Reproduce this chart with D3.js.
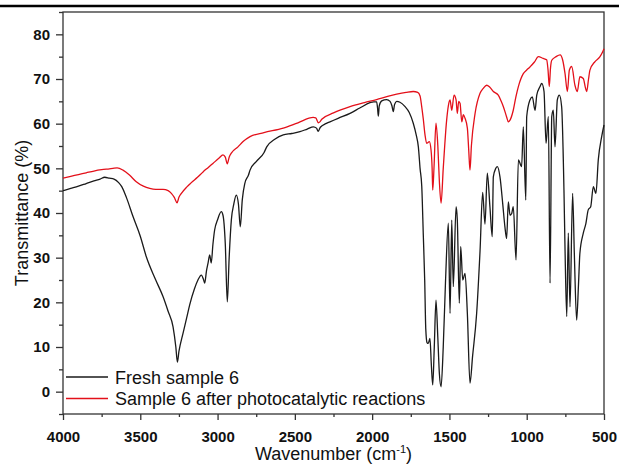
<!DOCTYPE html>
<html>
<head>
<meta charset="utf-8">
<script src="https://cdn.jsdelivr.net/npm/d3@7"></script>
<style>
  html, body { margin: 0; padding: 0; background: #fff; }
  svg { display: block; }
  text { font-family: "Liberation Sans", Arial, sans-serif; fill: #111; }
</style>
</head>
<body>
<svg id="chart" width="619" height="466"></svg>
<script>
// FT-IR spectra: wavenumber (cm^-1) and transmittance (%)
const freshWavenumber = [4000,3950,3900,3850,3800,3760,3730,3700,3670,3640,3620,3590,3547,3500,3461,3400,3353,3320,3288,3270,3260,3250,3224,3200,3180,3150,3127,3105,3090,3083,3072,3062,3051,3041,3030,3019,3000,2976,2965,2950,2937,2925,2911,2895,2879,2865,2853,2840,2824,2800,2790,2750,2700,2682,2630,2575,2520,2467,2420,2380,2360,2349,2335,2300,2273,2220,2143,2080,2014,1990,1971,1965,1960,1954,1938,1906,1884,1872,1863,1855,1841,1820,1787,1760,1734,1715,1701,1690,1679,1669,1660,1653,1645,1637,1626,1617,1608,1598,1587,1575,1565,1554,1540,1525,1507,1496,1485,1475,1457,1449,1436,1427,1414,1399,1384,1367,1350,1324,1302,1285,1270,1255,1238,1223,1216,1200,1190,1173,1155,1141,1130,1119,1108,1097,1087,1069,1054,1033,1022,1006,1000,979,964,946,935,914,903,888,875,860,849,838,828,817,802,789,774,759,752,741,731,720,703,692,677,665,656,634,617,602,586,569,552,537,515,500];
const freshT = [45.0,45.5,46.0,46.6,47.2,47.6,48.0,47.8,47.6,46.8,45.9,43.5,39.2,34.8,30.2,25.0,21.3,18.0,14.5,10.0,6.6,9.0,13.0,16.5,19.5,23.0,25.0,26.1,25.0,24.3,27.0,28.7,30.6,28.8,33.0,36.2,38.5,40.3,39.5,33.0,20.1,30.0,38.4,42.0,44.0,42.0,36.9,43.0,46.6,48.5,49.6,51.5,53.5,54.8,56.5,57.5,57.8,58.2,58.8,59.3,59.0,58.3,59.2,60.0,60.4,61.2,62.3,63.5,64.7,64.9,64.9,63.5,61.7,64.0,65.1,65.4,65.0,64.0,62.7,64.3,65.0,64.8,63.8,62.5,60.1,57.5,54.8,50.0,46.0,35.0,25.0,14.0,11.0,10.8,11.9,6.0,1.5,10.0,20.5,12.0,4.0,1.1,10.0,25.0,37.7,17.5,38.4,23.5,41.4,38.4,19.8,32.5,25.0,26.5,17.5,1.9,8.0,17.5,31.5,44.6,37.5,48.9,41.4,34.7,48.1,50.0,50.4,48.1,42.0,36.9,34.3,42.5,39.5,39.9,41.4,29.5,51.9,50.4,59.3,42.9,61.6,65.3,66.0,63.0,66.4,68.3,69.0,67.2,55.6,61.6,24.3,61.6,63.0,54.8,65.3,66.4,63.8,45.1,31.7,16.8,35.5,19.0,44.4,31.0,16.0,24.0,31.0,35.5,37.7,40.7,41.4,45.9,44.4,51.9,57.1,59.7];

const afterWavenumber = [4000,3950,3900,3850,3800,3750,3700,3677,3650,3612,3570,3526,3480,3439,3400,3353,3320,3299,3280,3262,3250,3234,3200,3170,3130,3094,3060,3030,2990,2965,2950,2937,2925,2911,2868,2835,2790,2700,2575,2480,2381,2365,2348,2338,2326,2250,2143,2050,1971,1900,1841,1780,1734,1705,1690,1680,1669,1658,1647,1638,1630,1619,1612,1608,1600,1587,1575,1565,1554,1540,1518,1507,1496,1485,1470,1457,1449,1440,1431,1420,1410,1399,1384,1375,1367,1358,1334,1302,1281,1259,1240,1216,1184,1165,1151,1130,1119,1108,1087,1070,1054,1022,1000,979,950,925,893,871,862,854,846,838,810,784,767,752,737,724,709,688,673,656,634,620,612,600,591,558,526,510,500];
const afterT = [47.8,48.2,48.6,49.0,49.4,49.7,49.9,50.0,50.1,49.6,48.5,47.0,46.0,45.5,45.3,45.3,45.0,44.4,43.5,42.3,43.5,44.4,45.8,46.8,48.0,49.2,50.2,51.1,52.3,53.0,52.5,51.0,52.5,53.4,54.8,56.0,57.1,58.0,59.0,60.2,61.4,61.3,60.2,60.4,61.0,62.4,63.8,64.7,65.4,66.1,66.6,67.0,67.2,67.0,66.2,64.0,61.0,57.5,55.6,55.8,56.0,54.1,50.0,45.1,50.0,60.1,55.0,47.0,42.2,50.0,60.8,64.0,65.3,63.0,66.4,65.3,62.3,65.0,64.5,60.4,62.0,61.2,59.0,54.0,49.6,55.0,62.3,66.8,67.9,68.6,68.2,67.2,66.4,65.0,63.8,61.5,60.4,60.8,63.0,66.0,68.3,71.2,72.0,72.7,73.8,75.0,74.6,74.3,72.0,68.3,72.5,74.2,75.0,75.4,74.2,71.2,67.2,72.0,72.8,68.6,67.2,70.5,70.1,68.0,67.2,70.0,72.0,73.9,75.0,76.0,76.8];

const xTicks = [4000,3500,3000,2500,2000,1500,1000,500];
const xMinorTicks = [3750,3250,2750,2250,1750,1250,750];
const yTicks = [0,10,20,30,40,50,60,70,80];
const yMinorTicks = [-5,5,15,25,35,45,55,65,75,85];

const seriesNames = ["Fresh sample 6", "Sample 6 after photocatalytic reactions"];
const seriesColors = ["#1a1a1a", "#e3101a"];

const svg = d3.select("#chart");
const plot = { left: 63, right: 604, top: 12, bottom: 414 };

const x = d3.scaleLinear().domain([4000, 500]).range([plot.left, plot.right]);
const y = d3.scaleLinear().domain([-5, 85]).range([plot.bottom, plot.top]);

// rule across the top of the figure
svg.append("line")
  .attr("x1", 0).attr("x2", 619).attr("y1", 6).attr("y2", 6)
  .attr("stroke", "#000").attr("stroke-width", 2.6);

// plot frame
svg.append("rect")
  .attr("x", plot.left).attr("y", plot.top)
  .attr("width", plot.right - plot.left).attr("height", plot.bottom - plot.top)
  .attr("fill", "none").attr("stroke", "#333").attr("stroke-width", 1.3);

// spectra
const line = d3.line()
  .x(d => x(d[0]))
  .y(d => y(d[1]))
  .curve(d3.curveMonotoneX);

const fresh = freshWavenumber.map((w, i) => [w, freshT[i]]);
const after = afterWavenumber.map((w, i) => [w, afterT[i]]);

svg.append("path").datum(fresh)
  .attr("d", line).attr("fill", "none")
  .attr("stroke", seriesColors[0]).attr("stroke-width", 1.3);
svg.append("path").datum(after)
  .attr("d", line).attr("fill", "none")
  .attr("stroke", seriesColors[1]).attr("stroke-width", 1.3);

// axes
const xAxis = d3.axisBottom(x).tickValues(xTicks).tickSize(6).tickPadding(11).tickFormat(d3.format("d"));
const xMinor = d3.axisBottom(x).tickValues(xMinorTicks).tickSize(3).tickFormat("");
const yAxis = d3.axisLeft(y).tickValues(yTicks).tickSize(7).tickPadding(6).tickFormat(d3.format("d"));
const yMinor = d3.axisLeft(y).tickValues(yMinorTicks).tickSize(4).tickFormat("");

function styleAxis(g) {
  g.select(".domain").remove();
  g.selectAll("line").attr("stroke", "#333").attr("stroke-width", 1.3);
  g.selectAll("text")
    .attr("font-family", "'Liberation Sans', Arial, sans-serif")
    .attr("font-size", 15).attr("font-weight", "bold").attr("fill", "#111");
}

svg.append("g").attr("transform", `translate(0,${plot.bottom})`).call(xAxis).call(styleAxis);
svg.append("g").attr("transform", `translate(0,${plot.bottom})`).call(xMinor).call(styleAxis);
svg.append("g").attr("transform", `translate(${plot.left},0)`).call(yAxis).call(styleAxis);
svg.append("g").attr("transform", `translate(${plot.left},0)`).call(yMinor).call(styleAxis);

// axis titles
const xTitle = svg.append("text")
  .attr("x", (plot.left + plot.right) / 2).attr("y", 460)
  .attr("text-anchor", "middle").attr("font-size", 18);
xTitle.append("tspan").text("Wavenumber (cm");
xTitle.append("tspan").attr("font-size", 11).attr("dy", -7).text("-1");
xTitle.append("tspan").attr("dy", 7).text(")");

svg.append("text")
  .attr("transform", `translate(28,${(plot.top + plot.bottom) / 2}) rotate(-90)`)
  .attr("text-anchor", "middle").attr("font-size", 18)
  .text("Transmittance (%)");

// legend
const legend = svg.append("g");
seriesNames.forEach((name, i) => {
  const ly = 377 + i * 21.5;
  legend.append("line")
    .attr("x1", 66).attr("x2", 108).attr("y1", ly).attr("y2", ly)
    .attr("stroke", seriesColors[i]).attr("stroke-width", 1.3);
  legend.append("text")
    .attr("x", 115).attr("y", ly + 6.5)
    .attr("font-size", 18).text(name);
});
</script>
</body>
</html>
